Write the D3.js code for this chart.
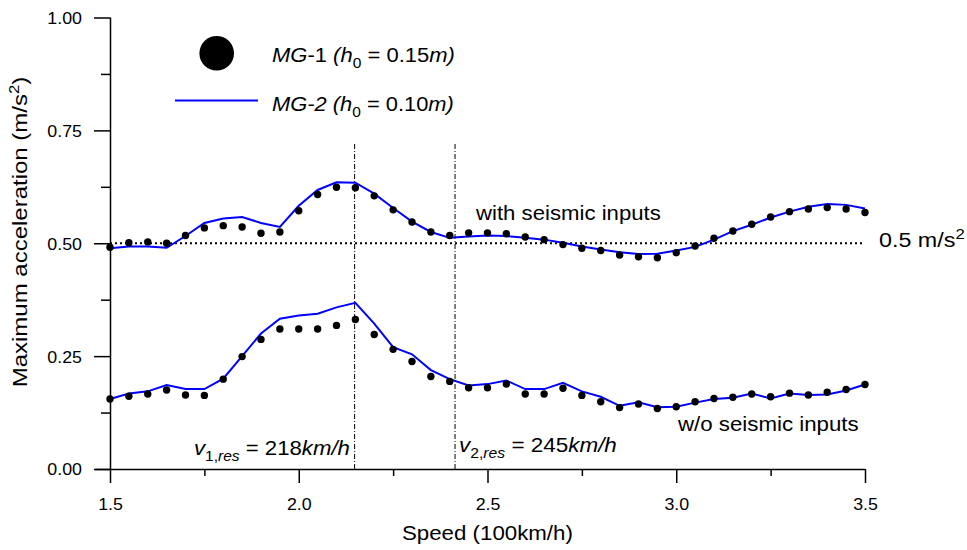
<!DOCTYPE html>
<html><head><meta charset="utf-8">
<script src="https://cdn.jsdelivr.net/npm/d3@7"></script>
<style>
body{margin:0;background:#fff;}
svg text{font-family:"Liberation Sans",Arial,sans-serif;fill:#000;}
</style></head>
<body><svg id="c" width="967" height="550"></svg>
<script>
const speeds = d3.range(41).map(i => +(1.5 + i*0.05).toFixed(2));
const mg1With = [0.491,0.501,0.503,0.500,0.517,0.534,0.539,0.536,0.522,0.525,0.572,0.608,0.624,0.623,0.605,0.574,0.547,0.525,0.517,0.523,0.523,0.521,0.514,0.508,0.497,0.489,0.484,0.474,0.470,0.468,0.479,0.494,0.511,0.527,0.542,0.558,0.570,0.576,0.579,0.576,0.568];
const mg2With = [0.489,0.493,0.493,0.490,0.516,0.545,0.555,0.558,0.545,0.536,0.583,0.618,0.635,0.634,0.610,0.578,0.548,0.525,0.512,0.515,0.517,0.516,0.512,0.508,0.501,0.493,0.486,0.480,0.476,0.477,0.484,0.492,0.508,0.527,0.541,0.557,0.570,0.581,0.587,0.585,0.577];
const mg1Without = [0.155,0.161,0.166,0.175,0.164,0.163,0.199,0.249,0.287,0.310,0.310,0.310,0.318,0.331,0.298,0.265,0.238,0.205,0.194,0.180,0.180,0.188,0.166,0.166,0.179,0.163,0.149,0.136,0.144,0.134,0.138,0.149,0.156,0.159,0.166,0.160,0.168,0.164,0.170,0.176,0.187];
const mg2Without = [0.155,0.167,0.172,0.186,0.177,0.177,0.200,0.250,0.300,0.333,0.340,0.344,0.358,0.368,0.322,0.270,0.254,0.219,0.199,0.185,0.188,0.196,0.177,0.177,0.191,0.172,0.160,0.140,0.148,0.137,0.138,0.147,0.155,0.158,0.167,0.156,0.167,0.164,0.165,0.174,0.187];
const xTicks = [1.5,2.0,2.5,3.0,3.5];
const yTicks = [0.00,0.25,0.50,0.75,1.00];
const resLines = [2.148, 2.414];
const refLevel = 0.5;
const resTop = 0.721;

const svg = d3.select("#c");
const x = d3.scaleLinear().domain([1.5,3.5]).range([110,865]);
const y = d3.scaleLinear().domain([0,1]).range([469,17.5]);
const SX = 1.08;

function fit(t, px, py, width, rot){
  const w = t.node().getBBox().width;
  const s = width / w;
  t.attr("x",0).attr("y",0)
   .attr("transform",`translate(${px},${py})${rot?` rotate(${rot})`:""} scale(${s},1)`);
}

// Axes
const xAxis = d3.axisBottom(x).tickValues(d3.range(1.5,3.51,0.25)).tickSize(14).tickSizeOuter(0)
  .tickFormat(d => xTicks.some(t => Math.abs(t-d)<1e-6) ? d3.format(".1f")(d) : "");
const gx = svg.append("g").attr("transform","translate(0,469)").call(xAxis);
gx.select(".domain").attr("d","M95,0.5H865").attr("stroke","#000").attr("stroke-width",1.5);
gx.selectAll(".tick line").attr("stroke","#000").attr("stroke-width",1.5)
  .attr("y2",(d)=> xTicks.some(t=>Math.abs(t-d)<1e-6)?14:7);
gx.selectAll(".tick text").attr("font-size",16.5).attr("dy",null).attr("y",41.5)
  .attr("transform",`scale(${SX},1)`);

const yAxis = d3.axisLeft(y).tickValues(d3.range(0,1.001,0.125)).tickSize(16).tickSizeOuter(0)
  .tickFormat(d => yTicks.some(t=>Math.abs(t-d)<1e-6) ? d3.format(".2f")(d) : "");
const gy = svg.append("g").attr("transform","translate(110,0)").call(yAxis);
gy.select(".domain").attr("d","M0.5,469V17.5").attr("stroke","#000").attr("stroke-width",1.5);
gy.selectAll(".tick line").attr("stroke","#000").attr("stroke-width",1.5)
  .attr("x2",(d)=> yTicks.some(t=>Math.abs(t-d)<1e-6)?-16:-9);
gy.selectAll(".tick text").attr("font-size",16.5).attr("x",-28/SX).attr("dy","0.36em")
  .attr("transform",`scale(${SX},1)`);

// axis titles
const xt = svg.append("text").attr("font-size",20).text("Speed (100km/h)");
fit(xt, 402, 540, 171);
const yt = svg.append("text").attr("text-anchor","middle").attr("font-size",20);
yt.append("tspan").text("Maximum acceleration (m/s");
yt.append("tspan").attr("font-size",14).attr("dy",-8).text("2");
yt.append("tspan").attr("dy",8).text(")");
fit(yt, 27, 232, 311, -90);

// reference line
svg.append("line").attr("x1",x(1.5)).attr("x2",x(3.5)).attr("y1",y(refLevel)).attr("y2",y(refLevel))
  .attr("stroke","#000").attr("stroke-width",2).attr("stroke-dasharray","2,3");
const rl = svg.append("text").attr("font-size",19.5);
rl.append("tspan").text("0.5 m/s");
rl.append("tspan").attr("font-size",14).attr("dy",-8).text("2");
fit(rl, 879, 247, 86);

// resonance lines
resLines.forEach(v => {
  svg.append("line").attr("x1",x(v)).attr("x2",x(v)).attr("y1",y(0)).attr("y2",y(resTop))
    .attr("stroke","#000").attr("stroke-width",1).attr("stroke-dasharray","5,2,1,2");
});

// lines
const line = d3.line().x((d,i)=>x(speeds[i])).y(d=>y(d));
[mg2With, mg2Without].forEach(s => {
  svg.append("path").attr("d",line(s)).attr("fill","none").attr("stroke","#0000ff").attr("stroke-width",2);
});
// dots
[mg1With, mg1Without].forEach(s => {
  svg.append("g").selectAll("circle").data(s).join("circle")
    .attr("cx",(d,i)=>x(speeds[i])).attr("cy",d=>y(d)).attr("r",3.7).attr("fill","#000");
});

// annotations
fit(svg.append("text").attr("font-size",20).text("with seismic inputs"), 476, 220, 186);
fit(svg.append("text").attr("font-size",20).text("w/o seismic inputs"), 678, 431, 182);
function resLabel(xp, yp, w, sub, val){
  const t = svg.append("text").attr("font-size",20);
  t.append("tspan").attr("font-style","italic").text("v");
  t.append("tspan").attr("font-size",14).attr("dy",6).text(sub.n);
  t.append("tspan").attr("font-size",14).attr("font-style","italic").text(sub.s);
  t.append("tspan").attr("dy",-6).text(" = " + val);
  t.append("tspan").attr("font-style","italic").text("km/h");
  fit(t, xp, yp, w);
}
resLabel(194,455,156,{n:"1,",s:"res"},"218");
resLabel(459,452,158,{n:"2,",s:"res"},"245");

// legend
svg.append("circle").attr("cx",216.7).attr("cy",53.3).attr("r",17.3).attr("fill","#000");
svg.append("line").attr("x1",175).attr("x2",258).attr("y1",100.5).attr("y2",100.5).attr("stroke","#0000ff").attr("stroke-width",2);
function legLabel(yp, w, name, num, h){
  const t = svg.append("text").attr("font-size",20.5).attr("font-style","italic");
  t.append("tspan").text(name);
  t.append("tspan").attr("font-style",num.italic?"italic":"normal").text(num.t);
  t.append("tspan").text(" (h");
  t.append("tspan").attr("font-size",14.5).attr("font-style","normal").attr("dy",6).text("0");
  t.append("tspan").attr("font-style","normal").attr("dy",-6).text(" = " + h);
  t.append("tspan").text("m)");
  fit(t, 272, yp, w);
}
legLabel(62,183,"MG",{t:"-1",italic:false},"0.15");
legLabel(111,182,"MG",{t:"-2",italic:true},"0.10");
</script></body></html>
